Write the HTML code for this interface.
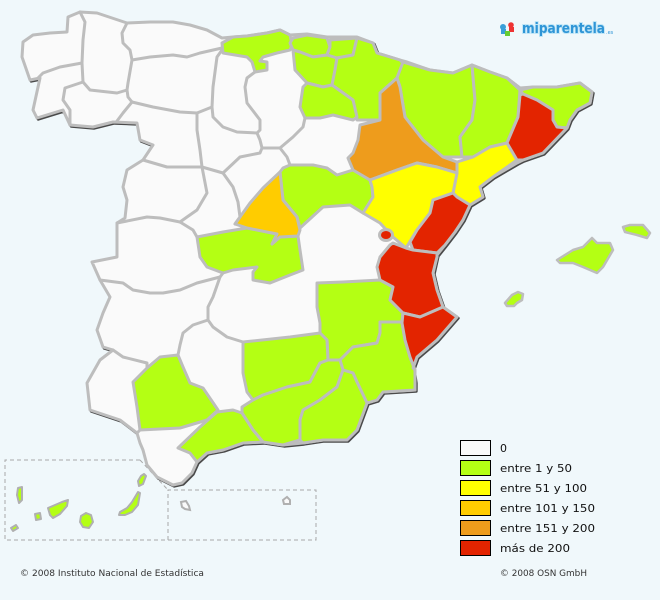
<!DOCTYPE html>
<html><head><meta charset="utf-8"><style>
html,body{margin:0;padding:0;background:#f0f8fb;}
svg{display:block;}
</style></head><body>
<svg width="660" height="600" viewBox="0 0 660 600" xmlns="http://www.w3.org/2000/svg">
<rect width="660" height="600" fill="#f0f8fb"/>
<defs>
<polygon id="outline" points="22,57 23,42 33,35 50,33 67,32 68,17 80,12 97,13 127,23 150,22 173,22 190,25 207,30 222,38 233,37 247,36 267,33 280,30 290,35 307,34 327,37 357,37 373,43 377,53 400,60 407,62 430,70 453,73 472,65 490,72 507,78 520,88 533,87 557,87 580,83 592,92 590,103 577,110 570,120 567,128 543,153 523,160 517,163 493,177 480,187 483,197 470,205 463,220 455,232 445,245 437,255 433,273 437,290 443,307 457,317 437,340 417,357 413,368 415,382 415,390 383,392 377,400 367,403 357,430 347,440 323,440 303,443 283,445 263,442 243,443 223,450 207,453 197,462 192,473 182,483 173,485 157,477 147,465 143,450 140,443 137,433 120,420 90,410 87,383 100,360 113,350 103,347 97,330 103,313 110,297 100,280 92,262 117,257 117,223 125,218 127,200 123,187 127,170 143,160 153,145 140,140 137,123 113,122 93,127 70,125 63,110 37,118 33,110 40,78 30,80"/>
</defs>

<!-- Canary / Ceuta-Melilla boxes -->
<g fill="none" stroke="#a8a8a8" stroke-width="1" stroke-dasharray="4,3">
<path d="M140,460 H5 V540 H316 V490 H168 V540"/>
<path d="M140,460 L168,490"/>
</g>

<!-- mainland -->
<use href="#outline" transform="translate(1.2,1.2)" fill="none" stroke="#4a4a4a" stroke-width="3" stroke-linejoin="round"/>
<use href="#outline" fill="#fafafa" stroke="#bdbdbd" stroke-width="3" stroke-linejoin="round"/>

<g stroke="#bdbdbd" stroke-width="3" stroke-linejoin="round">
<!-- green -->
<g fill="#b4ff14">
<polygon points="222,43 233,37 247,36 267,33 280,30 290,35 292,45 290,50 277,53 263,57 260,61 267,62 267,70 255,72 252,62 247,57 223,53"/>
<polygon points="290,43 293,38 307,35 327,38 330,47 327,55 313,57 300,52 293,50"/>
<polygon points="330,40 357,38 353,55 337,58 327,55 330,47"/>
<polygon points="293,50 300,52 313,57 327,55 337,58 335,70 332,85 323,87 307,83 295,70"/>
<polygon points="357,38 373,43 377,53 400,60 403,63 397,78 380,93 380,120 357,120 353,100 332,85 335,70 337,58 353,55"/>
<polygon points="303,87 307,83 323,87 332,85 353,100 357,117 353,120 333,115 320,118 305,118 300,107"/>
<polygon points="403,62 430,70 453,73 472,65 475,100 472,120 460,137 462,157 443,157 423,140 405,117 400,87 397,78"/>
<polygon points="472,65 490,72 507,78 520,90 518,117 507,143 490,147 473,157 462,157 460,137 472,120 475,100"/>
<polygon points="520,90 533,87 557,87 580,83 592,92 590,103 577,110 570,120 567,128 557,127 553,120 553,110 537,100 523,94"/>
<polygon points="283,168 290,165 313,165 327,168 337,175 353,170 370,180 372,187 373,197 363,213 350,205 323,207 300,228 297,217 283,200 280,172"/>
<polygon points="197,237 223,232 247,228 277,234 272,244 280,237 298,236 300,250 303,270 290,275 270,283 253,280 253,272 257,267 233,270 223,273 207,267 200,257"/>
<polygon points="317,283 343,282 380,280 393,287 390,300 403,313 402,322 380,322 380,333 377,343 353,347 340,360 328,360 327,340 320,333 320,323 317,307"/>
<polygon points="380,322 402,322 405,340 410,357 415,370 415,390 383,392 377,400 367,403 357,382 353,373 343,370 340,360 353,347 377,343 380,333"/>
<polygon points="243,342 290,337 320,333 327,340 328,360 320,363 310,382 287,387 263,395 253,400 247,392 243,373"/>
<polygon points="242,407 253,400 263,395 287,387 310,382 320,363 328,360 340,360 343,370 337,387 320,400 303,410 300,420 300,440 283,445 263,442 253,430 242,413"/>
<polygon points="343,370 353,373 357,382 367,403 357,430 347,440 323,440 303,443 300,440 300,420 303,410 320,400 337,387"/>
<polygon points="178,448 200,427 217,412 233,410 242,413 253,430 263,442 243,443 223,450 207,453 197,462 190,453"/>
<polygon points="133,382 147,368 160,357 178,355 183,367 190,383 203,388 218,410 207,420 180,428 140,430 137,407"/>
</g>
<!-- orange Zaragoza -->
<polygon fill="#ee9c1c" points="380,93 397,78 400,87 405,117 423,140 443,157 457,162 457,173 437,167 417,163 397,170 370,180 353,170 348,158 353,153 358,140 360,125 380,120"/>
<!-- Madrid -->
<polygon fill="#ffcc00" points="280,172 283,200 297,217 300,230 298,236 280,237 272,244 277,234 247,228 235,224 250,203 263,188"/>
<!-- yellow -->
<g fill="#ffff00">
<polygon points="507,143 517,160 493,177 480,187 483,197 470,205 457,197 453,193 457,173 457,162 473,157 490,147"/>
<polygon points="370,180 397,170 417,163 437,167 457,173 453,193 433,200 430,213 417,230 406,248 393,237 380,223 363,213 373,197 372,187"/>
</g>
<!-- red -->
<g fill="#e32400">
<polygon points="523,94 537,100 553,110 553,120 557,127 567,128 543,153 523,160 517,160 507,143 518,117 520,95"/>
<polygon points="453,193 457,197 470,205 463,220 455,232 445,245 437,253 413,250 410,242 417,230 430,213 433,200"/>
<polygon points="393,243 406,248 413,250 437,253 437,257 433,273 437,290 443,307 420,317 403,313 390,300 393,287 380,280 377,267 380,257 390,245"/>
<polygon points="403,313 420,317 443,307 457,317 437,340 417,357 413,368 415,370 410,357 405,340 402,323"/>
<ellipse cx="386" cy="235" rx="6.5" ry="5.5"/>
</g>
</g>

<!-- white-white borders -->
<g fill="none" stroke="#bdbdbd" stroke-width="3" stroke-linejoin="round" stroke-linecap="round">
<polyline points="80,12 85,22 83,40 82,63"/>
<polyline points="82,63 60,67 43,73 38,78"/>
<polyline points="82,63 83,82"/>
<polyline points="83,82 65,88 63,100 70,110 70,125"/>
<polyline points="83,82 90,90 117,93 127,90"/>
<polyline points="127,23 122,33 123,43 130,50 132,60 128,83 127,90 128,97 132,102"/>
<polyline points="132,102 123,113 117,121"/>
<polyline points="132,60 150,57 173,55 187,57 200,53 222,48"/>
<polyline points="222,50 217,57 213,87 212,107"/>
<polyline points="132,102 153,107 180,112 197,113 212,107"/>
<polyline points="255,72 247,78 245,87 247,103 260,120 260,130 257,133"/>
<polyline points="212,107 213,117 223,127 237,132 257,133 260,140 262,148 280,148"/>
<polyline points="280,148 293,137 303,127 305,118"/>
<polyline points="197,113 197,130 200,150 202,167 223,173"/>
<polyline points="223,173 240,157 260,153 262,148"/>
<polyline points="143,160 167,167 190,167 202,167"/>
<polyline points="223,173 233,187 238,202 240,217 235,224"/>
<polyline points="280,148 287,157 290,165"/>
<polyline points="202,167 207,193 197,210 187,217 180,222"/>
<polyline points="117,223 147,217 160,218 180,222 193,230 197,237"/>
<polyline points="100,280 123,283 133,290 150,293 163,293 180,290 197,283 220,277 223,273"/>
<polyline points="220,277 213,297 208,307 208,320 213,327 227,337 243,342"/>
<polyline points="208,320 193,325 183,333 180,345 178,355"/>
<polyline points="113,350 123,357 147,363 147,368"/>
<polyline points="140,430 137,433"/>
</g>

<!-- Balearics -->
<g stroke="#bdbdbd" stroke-width="2.5" stroke-linejoin="round" fill="#b4ff14">
<polygon points="557,260 573,250 583,247 592,238 597,243 610,243 613,250 603,267 597,273 583,267 573,263 560,263"/>
<polygon points="623,227 630,225 643,225 650,233 647,238 637,235 625,232"/>
<polygon points="505,303 512,295 518,292 523,294 522,300 517,303 514,306 507,306"/>
</g>

<!-- Canaries -->
<g stroke="#b0b0b0" stroke-width="2" stroke-linejoin="round" fill="#b4ff14">
<polygon points="18,488 22,487 22,500 19,503 17,495"/>
<polygon points="11,528 16,525 18,528 13,531"/>
<polygon points="35,514 40,513 41,519 36,520"/>
<polygon points="48,508 55,505 62,502 68,500 67,506 60,514 53,518 50,515"/>
<polygon points="81,516 86,513 91,515 93,522 89,528 83,527 80,522"/>
<polygon points="138,492 140,493 138,505 132,512 125,515 119,515 120,512 127,508 132,502"/>
<polygon points="144,474 146,476 143,484 139,486 138,481 141,476"/>
</g>
<g stroke="#b0b0b0" stroke-width="2" fill="#fafafa">
<polygon points="181,502 186,501 189,506 190,510 185,509 182,507"/>
<polygon points="283,500 287,497 290,500 290,504 284,504"/>
</g>

<!-- Logo -->
<g>
<circle cx="503" cy="27" r="3" fill="#3a9fd8"/>
<rect x="501" y="29" width="5" height="5" fill="#3a9fd8"/>
<circle cx="511" cy="25" r="2.8" fill="#e33"/>
<rect x="509" y="27" width="5" height="5" fill="#e33"/>
<rect x="505" y="31" width="5" height="5" fill="#6c3"/>
<text x="522" y="33" font-family="DejaVu Sans, Liberation Sans, sans-serif" font-weight="bold" font-size="14" fill="#2f95d6" stroke="#bfe6f7" stroke-width="2" paint-order="stroke" textLength="83" lengthAdjust="spacingAndGlyphs">miparentela</text>
<text x="606" y="34" font-family="DejaVu Sans, sans-serif" font-size="5" fill="#2f95d6">.es</text>
</g>

<!-- Legend -->
<g stroke="#000" stroke-width="1">
<rect x="460.5" y="440.5" width="30" height="15" fill="#fafafa"/>
<rect x="460.5" y="460.5" width="30" height="15" fill="#b4ff14"/>
<rect x="460.5" y="480.5" width="30" height="15" fill="#ffff00"/>
<rect x="460.5" y="500.5" width="30" height="15" fill="#ffcc00"/>
<rect x="460.5" y="520.5" width="30" height="15" fill="#ee9c1c"/>
<rect x="460.5" y="540.5" width="30" height="15" fill="#e32400"/>
</g>
<g font-family="DejaVu Sans, Liberation Sans, sans-serif" font-size="11" fill="#111">
<text x="500" y="452">0</text>
<text x="500" y="472" textLength="72" lengthAdjust="spacingAndGlyphs">entre 1 y 50</text>
<text x="500" y="492" textLength="87" lengthAdjust="spacingAndGlyphs">entre 51 y 100</text>
<text x="500" y="512" textLength="95" lengthAdjust="spacingAndGlyphs">entre 101 y 150</text>
<text x="500" y="532" textLength="95" lengthAdjust="spacingAndGlyphs">entre 151 y 200</text>
<text x="500" y="552" textLength="70" lengthAdjust="spacingAndGlyphs">más de 200</text>
</g>
<g font-family="DejaVu Sans, Liberation Sans, sans-serif" font-size="9" fill="#333">
<text x="20" y="576" textLength="184" lengthAdjust="spacingAndGlyphs">© 2008 Instituto Nacional de Estadística</text>
<text x="500" y="576" textLength="87" lengthAdjust="spacingAndGlyphs">© 2008 OSN GmbH</text>
</g>
</svg>
</body></html>
